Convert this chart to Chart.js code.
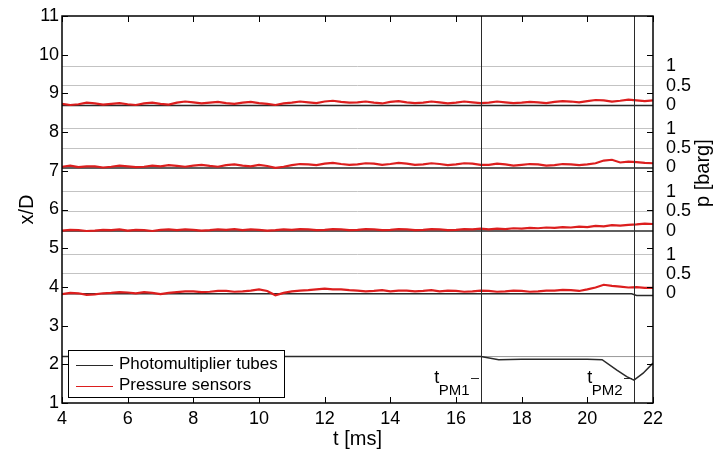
<!DOCTYPE html>
<html>
<head>
<meta charset="utf-8">
<script src="https://cdn.jsdelivr.net/npm/chart.js@4.4.0/dist/chart.umd.min.js"></script>
<style>
  body { margin: 0; background: #fff; }
  #wrap { width: 713px; height: 452px; }
</style>
</head>
<body>
<div id="wrap"><canvas id="chart" width="713" height="452"></canvas></div>
<script>
// sample times of the pressure traces [ms]
const timeMs = [
  4, 4.25, 4.5, 4.75, 5, 5.25, 5.5, 5.75, 6, 6.25, 6.5, 6.75, 7, 7.25, 7.5, 7.75,
  8, 8.25, 8.5, 8.75, 9, 9.25, 9.5, 9.75, 10, 10.25, 10.5, 10.75, 11, 11.25, 11.5, 11.75,
  12, 12.25, 12.5, 12.75, 13, 13.25, 13.5, 13.75, 14, 14.25, 14.5, 14.75, 15, 15.25, 15.5, 15.75,
  16, 16.25, 16.5, 16.75, 17, 17.25, 17.5, 17.75, 18, 18.25, 18.5, 18.75, 19, 19.25, 19.5, 19.75,
  20, 20.25, 20.5, 20.75, 21, 21.25, 21.5, 21.75, 22]

// pressure sensors: x/D of the zero line and signal in barg
const sensorPos = [8.70, 7.085, 5.455, 3.835]
const pressureScale = 1 // x/D per barg
const pressure1 = [
  0.03, 0.00, 0.02, 0.06, 0.04, 0.01, 0.03, 0.05, 0.02, 0.00, 0.04, 0.06, 0.03, 0.01, 0.06, 0.09,
  0.07, 0.04, 0.06, 0.08, 0.05, 0.03, 0.06, 0.08, 0.05, 0.03, 0.00, 0.04, 0.06, 0.09, 0.07, 0.05,
  0.09, 0.11, 0.08, 0.06, 0.07, 0.09, 0.06, 0.04, 0.08, 0.10, 0.07, 0.05, 0.06, 0.09, 0.07, 0.04,
  0.06, 0.09, 0.07, 0.05, 0.06, 0.09, 0.07, 0.05, 0.06, 0.08, 0.07, 0.05, 0.08, 0.10, 0.09, 0.07,
  0.10, 0.13, 0.12, 0.09, 0.11, 0.14, 0.12, 0.10, 0.12]
const pressure2 = [
  0.02, 0.05, 0.01, 0.03, 0.03, 0.00, 0.02, 0.05, 0.03, 0.01, 0.02, 0.05, 0.03, 0.06, 0.04, 0.02,
  0.05, 0.07, 0.04, 0.02, 0.06, 0.08, 0.05, 0.03, 0.07, 0.04, -0.01, 0.02, 0.06, 0.09, 0.08, 0.06,
  0.10, 0.12, 0.09, 0.07, 0.08, 0.11, 0.10, 0.07, 0.09, 0.12, 0.10, 0.07, 0.08, 0.11, 0.09, 0.06,
  0.08, 0.11, 0.10, 0.07, 0.07, 0.10, 0.08, 0.05, 0.07, 0.09, 0.08, 0.05, 0.06, 0.09, 0.08, 0.06,
  0.08, 0.11, 0.18, 0.20, 0.13, 0.15, 0.14, 0.12, 0.11]
const pressure3 = [
  0.00, 0.02, 0.01, -0.01, 0.00, 0.02, 0.01, 0.03, 0.00, 0.02, 0.01, -0.01, 0.02, 0.03, 0.01, 0.03,
  0.02, 0.00, 0.01, 0.03, 0.02, 0.04, 0.01, 0.03, 0.02, 0.00, 0.01, 0.03, 0.02, 0.04, 0.03, 0.01,
  0.02, 0.04, 0.03, 0.01, 0.02, 0.04, 0.03, 0.01, 0.02, 0.04, 0.03, 0.01, 0.02, 0.04, 0.03, 0.01,
  0.02, 0.04, 0.03, 0.05, 0.03, 0.05, 0.04, 0.06, 0.05, 0.07, 0.06, 0.08, 0.07, 0.09, 0.08, 0.10,
  0.09, 0.12, 0.11, 0.14, 0.13, 0.15, 0.16, 0.18, 0.17]
const pressure4 = [
  -0.02, 0.01, 0.00, -0.04, -0.03, 0.00, 0.01, 0.03, 0.02, 0.00, 0.03, 0.01, -0.02, 0.01, 0.03, 0.05,
  0.05, 0.03, 0.04, 0.06, 0.06, 0.04, 0.05, 0.07, 0.10, 0.06, -0.05, 0.01, 0.05, 0.07, 0.08, 0.10,
  0.12, 0.10, 0.10, 0.08, 0.07, 0.05, 0.06, 0.08, 0.05, 0.07, 0.07, 0.05, 0.06, 0.08, 0.05, 0.07,
  0.06, 0.04, 0.05, 0.07, 0.06, 0.04, 0.05, 0.07, 0.06, 0.04, 0.05, 0.07, 0.07, 0.09, 0.08, 0.06,
  0.10, 0.15, 0.22, 0.19, 0.17, 0.15, 0.16, 0.14, 0.14]
const pressureTicks = [0, 0.5, 1]
const pressureTickLabels = ['0', '0.5', '1']

// photomultiplier tubes (x/D)
const pmTimeFlat = [4, 22]
const pm1 = [8.69, 8.69]
const pm2 = [7.075, 7.075]
const pm3 = [5.445, 5.445]
const pmTime4 = [4, 21.35, 21.5, 22]
const pm4 = [3.825, 3.825, 3.78, 3.78]
const pmTime5 = [4, 16.76, 17.3, 18, 19, 20, 20.45, 20.9, 21.2, 21.42, 21.7, 22]
const pm5 = [2.20, 2.20, 2.12, 2.13, 2.13, 2.13, 2.12, 1.85, 1.68, 1.59, 1.77, 2.03]
const pmRefTime = [16.76, 22]
const pmRef = [2.20, 2.20]

// detection times
const markerTimes = [16.76, 21.42]
const markerNames = ['PM1', 'PM2']

const red = '#dc1e1e'
const dark = '#2a2a2a'
const legendItems = [
  { text: 'Photomultiplier tubes', color: dark },
  { text: 'Pressure sensors', color: red }
]

const FONT = '"Liberation Sans", Arial, sans-serif'
Chart.defaults.font.family = FONT
Chart.defaults.color = '#000'

const pts = (ts, vs) => ts.map((t, i) => ({ x: t, y: vs[i] }))

const pressureSets = [pressure1, pressure2, pressure3, pressure4].map((p, i) => ({
  label: 'Pressure sensors',
  data: pts(timeMs, p.map(v => sensorPos[i] + v * pressureScale)),
  borderColor: red, borderWidth: 2.2, pointRadius: 0, order: 0
}))

const pmSets = [
  pts(pmTimeFlat, pm1), pts(pmTimeFlat, pm2), pts(pmTimeFlat, pm3),
  pts(pmTime4, pm4), pts(pmTime5, pm5)
].map(d => ({
  label: 'Photomultiplier tubes',
  data: d, borderColor: dark, borderWidth: 1.5, pointRadius: 0, order: 1
}))

pmSets.push({
  label: 'ref', data: pts(pmRefTime, pmRef),
  borderColor: '#9a9a9a', borderWidth: 1, pointRadius: 0, order: 2
})

const frame = {
  id: 'frame',
  afterDatasetsDraw(chart) {
    const { ctx, chartArea: a, scales: { x } } = chart
    ctx.save()

    // detection markers
    ctx.strokeStyle = dark
    ctx.fillStyle = '#000'
    ctx.lineWidth = 1
    markerTimes.forEach((t, i) => {
      const px = Math.round(x.getPixelForValue(t)) + 0.5
      ctx.beginPath()
      ctx.moveTo(px, a.top)
      ctx.lineTo(px, a.bottom)
      ctx.stroke()

      ctx.beginPath()
      ctx.moveTo(px - 10.5, a.bottom - 24.5)
      ctx.lineTo(px - 2.5, a.bottom - 24.5)
      ctx.stroke()

      ctx.font = '15px ' + FONT
      const w = ctx.measureText(markerNames[i]).width
      const subRight = px - 12
      ctx.textAlign = 'right'
      ctx.textBaseline = 'middle'
      ctx.fillText(markerNames[i], subRight, a.bottom - 12)
      ctx.font = '18px ' + FONT
      ctx.fillText('t', subRight - w + 0.5, a.bottom - 25)
    })

    // legend box
    const lx = a.left + 6, ly = a.bottom - 53, lw = 216, lh = 47
    ctx.fillStyle = '#fff'
    ctx.fillRect(lx, ly, lw, lh)
    ctx.strokeStyle = '#000'
    ctx.strokeRect(lx + 0.5, ly + 0.5, lw, lh)
    ctx.font = '17px ' + FONT
    ctx.textAlign = 'left'
    ctx.textBaseline = 'middle'
    legendItems.forEach((it, i) => {
      const cy = ly + 14.5 + i * 21
      ctx.strokeStyle = it.color
      ctx.lineWidth = 1
      ctx.beginPath()
      ctx.moveTo(lx + 8, Math.round(cy) + 0.5)
      ctx.lineTo(lx + 45, Math.round(cy) + 0.5)
      ctx.stroke()
      ctx.fillStyle = '#000'
      ctx.fillText(it.text, lx + 51, cy)
    })
    ctx.restore()
  },
  afterDraw(chart) {
    const { ctx, chartArea: a, scales: { x, y } } = chart
    ctx.save()
    ctx.strokeStyle = '#000'
    ctx.lineWidth = 1
    const tl = 6
    ctx.beginPath()
    x.ticks.forEach(t => {
      const px = Math.round(x.getPixelForValue(t.value)) + 0.5
      ctx.moveTo(px, a.bottom); ctx.lineTo(px, a.bottom - tl)
      ctx.moveTo(px, a.top); ctx.lineTo(px, a.top + tl)
    })
    y.ticks.forEach(t => {
      const py = Math.round(y.getPixelForValue(t.value)) + 0.5
      ctx.moveTo(a.left, py); ctx.lineTo(a.left + tl, py)
      ctx.moveTo(a.right, py); ctx.lineTo(a.right - tl, py)
    })
    ctx.stroke()

    ctx.lineWidth = 1.5
    ctx.strokeRect(a.left, a.top, a.right - a.left, a.bottom - a.top)

    // right axis title
    ctx.translate(a.right + 50, y.getPixelForValue(6.94))
    ctx.rotate(-Math.PI / 2)
    ctx.font = '20px ' + FONT
    ctx.fillStyle = '#000'
    ctx.textAlign = 'center'
    ctx.textBaseline = 'middle'
    ctx.fillText('p [barg]', 0, 0)
    ctx.restore()
  }
}

new Chart(document.getElementById('chart'), {
  type: 'line',
  data: { datasets: [...pressureSets, ...pmSets] },
  options: {
    responsive: false,
    animation: false,
    events: [],
    layout: { padding: { top: 16, right: 0, left: 0, bottom: 0 } },
    plugins: { legend: { display: false }, tooltip: { enabled: false } },
    elements: { line: { tension: 0 } },
    scales: {
      x: {
        type: 'linear', min: 4, max: 22,
        ticks: { stepSize: 2, font: { size: 18 }, padding: 5, maxRotation: 0 },
        grid: { display: false, drawTicks: false },
        border: { display: false },
        title: { display: true, text: 't [ms]', font: { size: 20 }, padding: { top: 0, bottom: 1 } },
        afterFit: s => { s.height = 49; s.paddingLeft = 0; s.paddingRight = 0 }
      },
      y: {
        type: 'linear', min: 1, max: 11,
        ticks: { stepSize: 1, font: { size: 18 }, padding: 3 },
        grid: { display: false, drawTicks: false },
        border: { display: false },
        title: { display: true, text: 'x/D', font: { size: 20 }, padding: { top: 15, bottom: 0 } },
        afterFit: s => { s.width = 62; s.paddingTop = 0; s.paddingBottom = 0 }
      },
      y2: {
        type: 'linear', position: 'right', min: 1, max: 11,
        afterBuildTicks: s => {
          s.ticks = sensorPos.flatMap(pos => pressureTicks.map(p => ({ value: pos + p * pressureScale })))
        },
        ticks: {
          autoSkip: false, font: { size: 18 }, padding: 13,
          callback: (v, i) => pressureTickLabels[i % pressureTickLabels.length]
        },
        grid: {
          drawTicks: false,
          color: c => (c.index % pressureTicks.length === 0 ? 'rgba(0,0,0,0)' : '#c3c3c3'),
          lineWidth: 1
        },
        border: { display: false },
        afterFit: s => { s.width = 60; s.paddingTop = 0; s.paddingBottom = 0 }
      }
    }
  },
  plugins: [frame]
})
</script>
</body>
</html>
